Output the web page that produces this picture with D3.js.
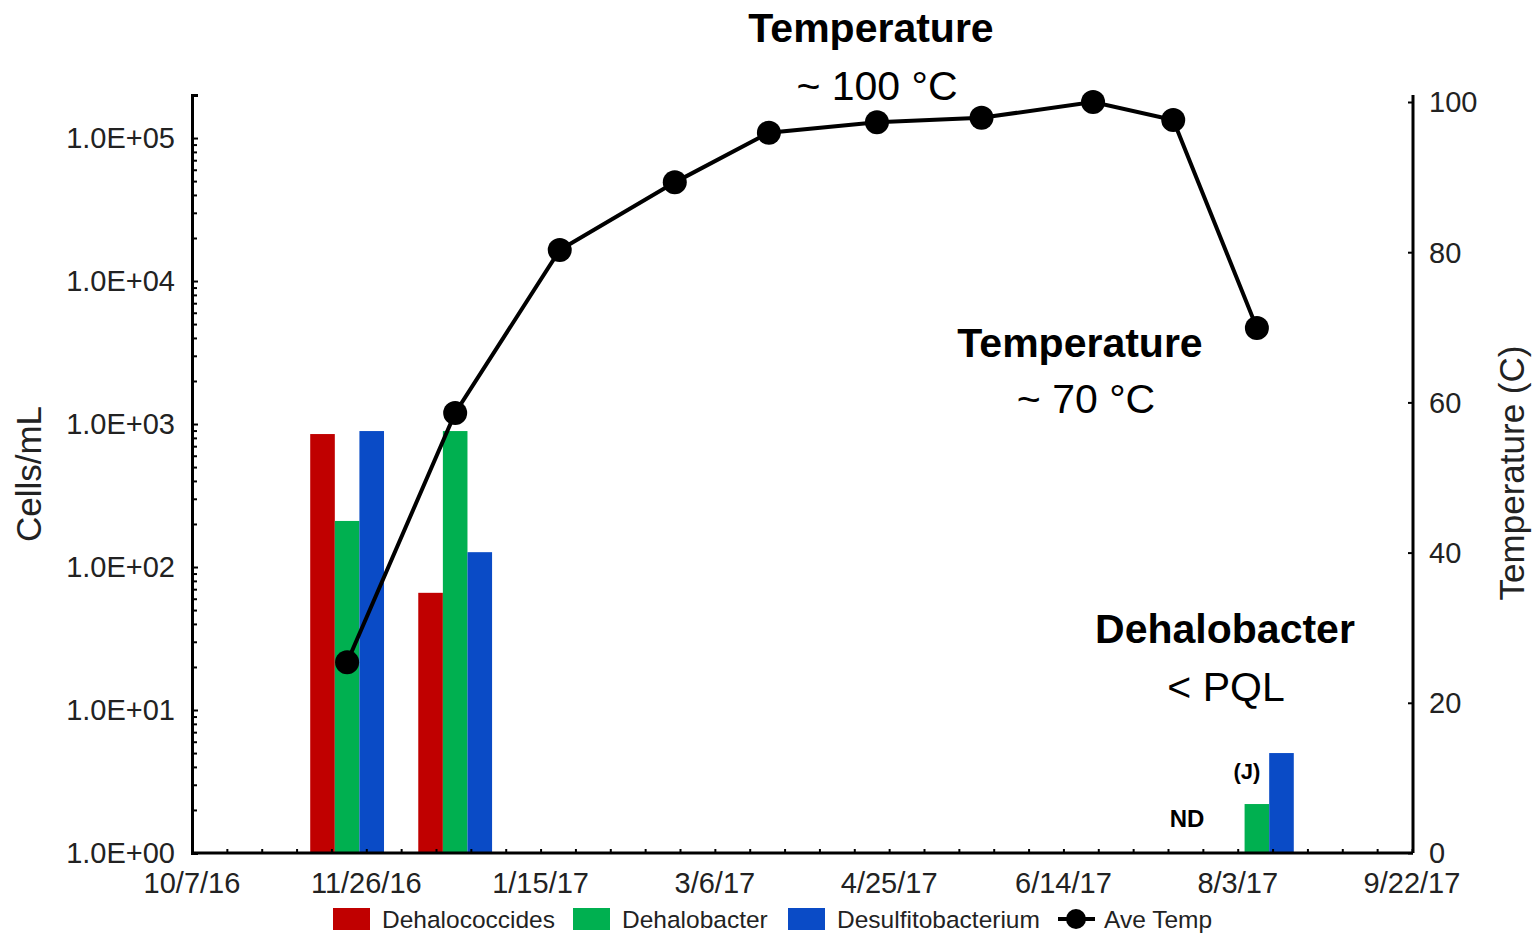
<!DOCTYPE html>
<html><head><meta charset="utf-8">
<script src="https://cdn.jsdelivr.net/npm/d3@7"></script>
<style>body{margin:0;background:#fff}svg{display:block}text{font-family:"Liberation Sans",Arial,sans-serif}</style>
</head><body>
<svg id="c" width="1539" height="935"></svg>
<script>
const sampleDates = ["2016-11-20","2016-12-21","2017-08-08"];
const dehalococcides = [851, 66, null];
const dehalobacter = [210, 893, 2.2];
const desulfitobacterium = [893, 127, 5.0];
const tempDates = ["2016-11-20","2016-12-21","2017-01-20","2017-02-22","2017-03-21","2017-04-21","2017-05-21","2017-06-22","2017-07-15","2017-08-08"];
const aveTemp = [25.4, 58.6, 80.3, 89.3, 95.9, 97.3, 97.9, 100, 97.6, 69.9];
const xTickLabels = ["10/7/16","11/26/16","1/15/17","3/6/17","4/25/17","6/14/17","8/3/17","9/22/17"];
const yLeftTicks = [1,10,100,1000,10000,100000];
const yLeftLabels = ["1.0E+00","1.0E+01","1.0E+02","1.0E+03","1.0E+04","1.0E+05"];
const yRightTicks = [0,20,40,60,80,100];
const seriesNames = ["Dehalococcides","Dehalobacter","Desulfitobacterium"];
const seriesColors = ["#c00000","#00b050","#0a4bc6"];

const parse = s => d3.timeParse("%Y-%m-%d %H")(s + " 12");
const tparse = d3.timeParse("%m/%d/%y");
const svg = d3.select("#c");
const x = d3.scaleTime().domain([tparse("10/7/16"), tparse("9/22/17")]).range([192, 1412]);
const yL = d3.scaleLog().domain([1, 2e5]).range([853, 95]);
const yR = d3.scaleLinear().domain([0, 100]).range([853, 102]);

// bars
const barW = 24.6;
const seriesVals = [dehalococcides, dehalobacter, desulfitobacterium];
seriesVals.forEach((vals, si) => {
  svg.append("g").selectAll("rect").data(vals.map((v,i)=>({v, d: parse(sampleDates[i])})).filter(o=>o.v!=null))
    .join("rect")
    .attr("x", o => x(o.d) + (si-1)*barW - barW/2)
    .attr("width", barW)
    .attr("y", o => yL(o.v))
    .attr("height", o => yL(1) - yL(o.v))
    .attr("fill", seriesColors[si]);
});

// left axis
const gL = svg.append("g").attr("transform","translate(192,0)");
const minorL = [];
for (let k=0;k<=5;k++) for (let m=2;m<=9;m++){ const v=m*Math.pow(10,k); if (v<=2e5) minorL.push(v); }
gL.call(d3.axisRight(yL).tickValues(minorL).tickSize(5).tickFormat(""));
gL.call(g=>g.append("g").call(d3.axisRight(yL).tickValues(yLeftTicks).tickSize(6).tickFormat("")));
gL.selectAll("path.domain").attr("stroke","#000").attr("stroke-width",3);
gL.selectAll("line").attr("stroke","#000").attr("stroke-width",2);
svg.append("g").selectAll("text").data(yLeftTicks).join("text")
  .attr("x", 175).attr("y", d=>yL(d)).attr("dy","0.36em").attr("text-anchor","end")
  .attr("font-size", 29).attr("fill","#222").text((d,i)=>yLeftLabels[i]);

// right axis
const gR = svg.append("g").attr("transform","translate(1413,0)");
gR.call(d3.axisLeft(yR).tickValues(yRightTicks).tickSize(5).tickFormat(""));
gR.select("path.domain").attr("d","M0,95V853").attr("stroke","#000").attr("stroke-width",3);
gR.selectAll("line").attr("stroke","#000").attr("stroke-width",2);
svg.append("g").selectAll("text").data(yRightTicks).join("text")
  .attr("x", 1429).attr("y", d=>yR(d)).attr("dy","0.36em").attr("text-anchor","start")
  .attr("font-size", 29).attr("fill","#222").text(d=>d);

// x axis
const gX = svg.append("g").attr("transform","translate(0,853)");
const minorX = d3.timeDay.every(1).range(x.domain()[0], d3.timeDay.offset(x.domain()[1],1)).filter((d,i)=>i%10===0);
const majorX = xTickLabels.map(tparse);
gX.call(d3.axisTop(x).tickValues(minorX).tickSize(4).tickFormat(""));
gX.selectAll("path.domain").attr("d","M192,0H1413").attr("stroke","#000").attr("stroke-width",3);
gX.selectAll("line").attr("stroke","#000").attr("stroke-width",2);
svg.append("g").selectAll("text").data(majorX).join("text")
  .attr("x", d=>x(d)).attr("y", 883).attr("dy","0.36em").attr("text-anchor","middle")
  .attr("font-size", 29).attr("fill","#222").text((d,i)=>xTickLabels[i]);

// axis titles
svg.append("text").attr("transform","translate(41,474) rotate(-90)").attr("text-anchor","middle")
  .attr("font-size",35).attr("fill","#222").text("Cells/mL");
svg.append("text").attr("transform","translate(1524,473) rotate(-90)").attr("text-anchor","middle")
  .attr("font-size",35).attr("fill","#222").text("Temperature (C)");

// temperature line
const tpts = aveTemp.map((t,i)=>({t, d: parse(tempDates[i])}));
svg.append("path").datum(tpts)
  .attr("d", d3.line().x(o=>x(o.d)).y(o=>yR(o.t)))
  .attr("fill","none").attr("stroke","#000").attr("stroke-width",4);
svg.append("g").selectAll("circle").data(tpts).join("circle")
  .attr("cx", o=>x(o.d)).attr("cy", o=>yR(o.t)).attr("r", 12).attr("fill","#000");

// annotations
const ann = svg.append("g").attr("text-anchor","middle");
function at(xp, yp, txt, size, bold){
  ann.append("text").attr("x",xp).attr("y",yp).attr("dy","0.36em")
    .attr("font-family","'Open Sans','Noto Sans',sans-serif")
    .attr("font-size",size).attr("font-weight",bold?"bold":"normal").attr("fill","#000").text(txt);
}
at(871, 27, "Temperature", 41, true);
at(877, 85, "~ 100 °C", 41, false);
at(1080, 342, "Temperature", 41, true);
at(1086, 398, "~ 70 °C", 41, false);
at(1225, 628, "Dehalobacter", 41, true);
at(1226, 686, "< PQL", 41, false);
at(1247, 771, "(J)", 22, true);
at(1187, 818, "ND", 24, true);

// legend
const lg = svg.append("g");
const legX = [333, 573, 788];
seriesNames.forEach((n,i)=>{
  lg.append("rect").attr("x",legX[i]).attr("y",908).attr("width",37).attr("height",22).attr("fill",seriesColors[i]);
  lg.append("text").attr("x",legX[i]+49).attr("y",919).attr("dy","0.36em").attr("font-size",24.5).attr("fill","#222").text(n);
});
lg.append("line").attr("x1",1058).attr("x2",1095).attr("y1",919).attr("y2",919).attr("stroke","#000").attr("stroke-width",4);
lg.append("circle").attr("cx",1076).attr("cy",919).attr("r",10).attr("fill","#000");
lg.append("text").attr("x",1104).attr("y",919).attr("dy","0.36em").attr("font-size",24.5).attr("fill","#222").text("Ave Temp");
</script>
</body></html>
